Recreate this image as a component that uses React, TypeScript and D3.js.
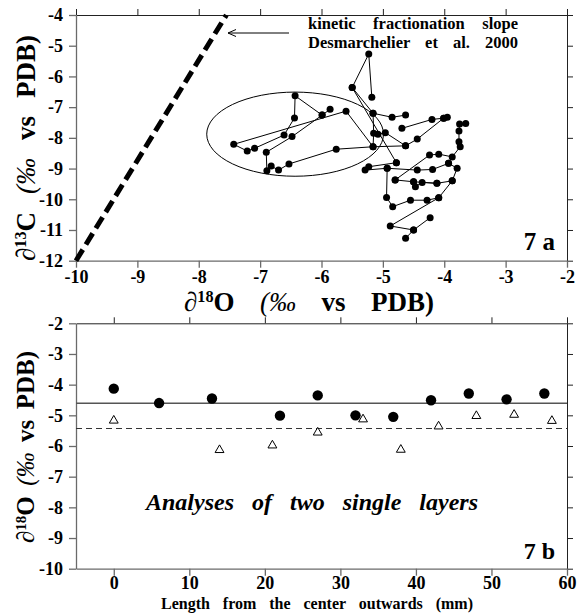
import React, { useEffect, useRef } from 'react';
import * as d3 from 'd3';

type Pt = [number, number];

// ---- 7a : d13C vs d18O, samples joined in growth order ----
const chainLeft: Pt[] = [
  [-5.86, -7.07], [-5.99, -7.26], [-6.43, -6.63], [-6.44, -7.35], [-6.61, -7.91],
  [-7.09, -8.34], [-7.21, -8.43], [-7.43, -8.21], [-5.60, -7.13], [-5.16, -8.29],
  [-5.76, -8.37], [-6.53, -8.85], [-6.70, -9.05], [-6.82, -8.92], [-6.89, -9.07],
  [-6.90, -8.47], [-6.48, -7.96], [-5.99, -7.26],
];
const chainTop: Pt[] = [[-5.18, -6.68], [-5.23, -5.27], [-5.50, -6.36], [-5.16, -7.20], [-4.85, -7.33], [-4.63, -7.26]];
const chainDrop: Pt[] = [[-5.50, -6.36], [-4.78, -8.81]];
const chainMid: Pt[] = [[-5.16, -7.20], [-5.15, -7.85], [-5.16, -8.29], [-4.63, -8.26]];
const chainMid2: Pt[] = [[-5.08, -7.88], [-4.96, -7.83], [-4.63, -8.26], [-4.44, -8.04], [-4.01, -7.36]];
const chainUpper: Pt[] = [[-4.69, -7.69], [-4.20, -7.40], [-4.01, -7.36], [-3.95, -7.33]];
const chainRight: Pt[] = [
  [-3.65, -7.53], [-3.75, -7.55], [-3.76, -7.78], [-3.76, -8.13], [-3.74, -8.29],
  [-3.87, -8.62], [-4.09, -8.53], [-4.24, -8.56], [-4.80, -9.37],
];
const chainLow: Pt[] = [
  [-3.93, -8.83], [-3.79, -8.99], [-3.87, -9.40], [-4.09, -9.95], [-4.28, -10.03],
  [-4.55, -10.03], [-4.84, -10.24], [-4.94, -9.94], [-4.93, -8.99], [-5.29, -9.05],
];
const chainTail: Pt[] = [[-4.09, -9.95], [-4.88, -10.87], [-4.50, -11.00], [-4.23, -10.60]];
const chainTail2: Pt[] = [[-4.50, -11.00], [-4.63, -11.27]];
const chainCross: Pt[] = [[-5.23, -8.94], [-4.78, -8.81]];
const chainCross2: Pt[] = [[-4.93, -8.99], [-4.44, -9.05], [-4.19, -9.03], [-3.93, -8.83]];
const chainBand: Pt[] = [[-4.80, -9.37], [-4.50, -9.43], [-4.12, -9.48], [-3.87, -9.40]];
const chainBand2: Pt[] = [[-4.50, -9.43], [-4.47, -9.59], [-4.36, -9.45], [-4.12, -9.48]];

const chainsA: Pt[][] = [
  chainLeft, chainTop, chainDrop, chainMid, chainMid2, chainUpper, chainRight,
  chainLow, chainTail, chainTail2, chainCross, chainCross2, chainBand, chainBand2,
];

const slopeLine: Pt[] = [[-10, -12], [-7.55, -4]];
const groupEllipse = { cx: -6.43, cy: -7.88, rx: 1.44, ry: 1.37 };

const xTicksA = [-10, -9, -8, -7, -6, -5, -4, -3, -2];
const yTicksA = [-12, -11, -10, -9, -8, -7, -6, -5, -4];

// ---- 7b : d18O along two single layers ----
const layer1X = [0, 6, 13, 22, 27, 32, 37, 42, 47, 52, 57];
const layer1Y = [-4.13, -4.6, -4.45, -5.01, -4.35, -5.0, -5.05, -4.51, -4.29, -4.48, -4.29];
const layer2X = [0, 14, 21, 27, 33, 38, 43, 48, 53, 58];
const layer2Y = [-5.17, -6.13, -5.98, -5.56, -5.13, -6.12, -5.36, -5.02, -4.98, -5.18];
const layer1Mean = -4.61;
const layer2Mean = -5.43;

const xTicksB = [0, 10, 20, 30, 40, 50, 60];
const yTicksB = [-10, -9, -8, -7, -6, -5, -4, -3, -2];

const FONT = '"Liberation Serif", "DejaVu Serif", serif';

// stretch the gaps between words so a text spans a given width
const fitWords = (sel: any, target: number) => {
  const node = sel.node() as SVGTextElement;
  const len = node.getComputedTextLength();
  const gaps = (node.textContent || '').split(' ').length - 1;
  if (gaps > 0) sel.style('word-spacing', `${Math.max(0, (target - len) / gaps)}px`);
};

const App: React.FC = () => {
  const svgRef = useRef<SVGSVGElement>(null);

  useEffect(() => {
    if (!svgRef.current) return;
    const svg = d3.select(svgRef.current);
    svg.selectAll('*').remove();

    const left = 76, right = 567;

    const frame = (g: any, x: any, y: any, xTicks: number[], yTicks: number[], xPad: number) => {
      const grey = '#6a6a6a';
      const [y0, y1] = y.range();
      g.append('g').attr('transform', `translate(0,${y1})`)
        .call(d3.axisTop(x).tickValues(xTicks).tickSize(6).tickSizeOuter(0).tickFormat(() => ''))
        .call((a: any) => a.selectAll('path,line').attr('stroke', '#222'));
      g.append('g').attr('transform', `translate(${right},0)`)
        .call(d3.axisRight(y).tickValues(yTicks).tickSize(6).tickSizeOuter(0).tickFormat(() => ''))
        .call((a: any) => a.selectAll('path,line').attr('stroke', '#222'));
      g.append('g').attr('transform', `translate(0,${y0})`)
        .call(d3.axisBottom(x).tickValues(xTicks).tickSize(7).tickPadding(xPad).tickSizeOuter(0).tickFormat((d: any) => String(d)))
        .call((a: any) => {
          a.selectAll('path,line').attr('stroke', grey).attr('stroke-width', 1.3);
          a.selectAll('text').attr('fill', '#000').style('font-family', FONT).style('font-weight', 'bold').style('font-size', '18px');
        });
      g.append('g').attr('transform', `translate(${left},0)`)
        .call(d3.axisLeft(y).tickValues(yTicks).tickSize(7).tickPadding(6).tickSizeOuter(0).tickFormat((d: any) => String(d)))
        .call((a: any) => {
          a.selectAll('path,line').attr('stroke', grey).attr('stroke-width', 1.3);
          a.selectAll('text').attr('fill', '#000').style('font-family', FONT).style('font-weight', 'bold').style('font-size', '18px');
        });
    };

    const title = (g: any, sup: string, atom: string, size: number, width: number) => {
      g.style('font-family', FONT).style('font-weight', 'bold').style('font-size', `${size}px`);
      g.append('tspan').text('\u2202').style('font-weight', 'normal');
      g.append('tspan').text(sup).attr('dy', -size * 0.33).style('font-size', `${size * 0.6}px`);
      g.append('tspan').text(atom).attr('dy', size * 0.33);
      g.append('tspan').text(' (\u2030').style('font-weight', 'normal').style('font-style', 'italic');
      g.append('tspan').text(' vs PDB)');
      fitWords(g, width);
    };

    // ---------------- 7a ----------------
    const xA = d3.scaleLinear().domain([-10, -2]).range([left, right]);
    const yA = d3.scaleLinear().domain([-12, -4]).range([260.7, 15]);
    const gA = svg.append('g');
    frame(gA, xA, yA, xTicksA, yTicksA, 3);

    const line = d3.line<Pt>().x(d => xA(d[0])).y(d => yA(d[1]));

    gA.append('path').attr('d', line(slopeLine)).attr('fill', 'none')
      .attr('stroke', '#000').attr('stroke-width', 5).attr('stroke-dasharray', '13,6');

    gA.append('ellipse')
      .attr('cx', xA(groupEllipse.cx)).attr('cy', yA(groupEllipse.cy))
      .attr('rx', xA(groupEllipse.cx + groupEllipse.rx) - xA(groupEllipse.cx))
      .attr('ry', yA(groupEllipse.cy - groupEllipse.ry) - yA(groupEllipse.cy))
      .attr('fill', 'none').attr('stroke', '#000').attr('stroke-width', 1);

    chainsA.forEach(c => {
      gA.append('path').attr('d', line(c)).attr('fill', 'none').attr('stroke', '#000').attr('stroke-width', 1);
    });
    const allPts = chainsA.flat();
    gA.selectAll('circle.pt').data(allPts).enter().append('circle')
      .attr('class', 'pt').attr('cx', d => xA(d[0])).attr('cy', d => yA(d[1])).attr('r', 3.5).attr('fill', '#000');

    // annotation
    const annLine = (txt: string, y: number) => {
      const t = gA.append('text').attr('text-anchor', 'middle').attr('x', 413).attr('y', y)
        .style('font-family', FONT).style('font-weight', 'bold').style('font-size', '16.5px').text(txt);
      fitWords(t, 210);
    };
    annLine('kinetic fractionation slope', 29);
    annLine('Desmarchelier et al. 2000', 48);
    gA.append('line').attr('x1', 289).attr('x2', 228).attr('y1', 33).attr('y2', 33).attr('stroke', '#000').attr('stroke-width', 1);
    gA.append('path').attr('d', 'M236,29.5 L228,33 L236,36.5').attr('fill', 'none').attr('stroke', '#000').attr('stroke-width', 1);

    gA.append('text').attr('x', 555).attr('y', 250).attr('text-anchor', 'end')
      .style('font-family', FONT).style('font-weight', 'bold').style('font-size', '25px').text('7 a');

    const tyA = gA.append('text').attr('transform', 'translate(35,148) rotate(-90)').attr('text-anchor', 'middle');
    title(tyA, '13', 'C', 27, 226);
    const txA = gA.append('text').attr('x', 309).attr('y', 311).attr('text-anchor', 'middle');
    title(txA, '18', 'O', 27, 250);

    // ---------------- 7b ----------------
    const xB = d3.scaleLinear().domain([-5, 60]).range([left, right]);
    const yB = d3.scaleLinear().domain([-10, -2]).range([568.7, 323.3]);
    const gB = svg.append('g');
    frame(gB, xB, yB, xTicksB, yTicksB, 1);

    gB.append('line').attr('x1', xB(-5)).attr('x2', xB(60)).attr('y1', yB(layer1Mean)).attr('y2', yB(layer1Mean))
      .attr('stroke', '#555').attr('stroke-width', 1.5);
    gB.append('line').attr('x1', xB(-5)).attr('x2', xB(60)).attr('y1', yB(layer2Mean)).attr('y2', yB(layer2Mean))
      .attr('stroke', '#333').attr('stroke-width', 1).attr('stroke-dasharray', '6,4');

    const tri = d3.symbol().type(d3.symbolTriangle).size(34);
    gB.selectAll('path.tri').data(layer2X).enter().append('path').attr('class', 'tri')
      .attr('d', tri() as string)
      .attr('transform', (d, i) => `translate(${xB(d)},${yB(layer2Y[i])})`)
      .attr('fill', '#fff').attr('stroke', '#000').attr('stroke-width', 1);
    gB.selectAll('circle.dot').data(layer1X).enter().append('circle').attr('class', 'dot')
      .attr('cx', d => xB(d)).attr('cy', (d, i) => yB(layer1Y[i])).attr('r', 5.2).attr('fill', '#000');

    const analyses = gB.append('text').attr('x', 312).attr('y', 510).attr('text-anchor', 'middle')
      .style('font-family', FONT).style('font-weight', 'bold').style('font-style', 'italic')
      .style('font-size', '24px').text('Analyses of two single layers');
    fitWords(analyses, 332);

    gB.append('text').attr('x', 555).attr('y', 559).attr('text-anchor', 'end')
      .style('font-family', FONT).style('font-weight', 'bold').style('font-size', '24px').text('7 b');

    const tyB = gB.append('text').attr('transform', 'translate(34,447) rotate(-90)').attr('text-anchor', 'middle');
    title(tyB, '18', 'O', 25, 192);

    const lenTitle = gB.append('text').attr('x', 317).attr('y', 609).attr('text-anchor', 'middle')
      .style('font-family', FONT).style('font-weight', 'bold').style('font-size', '16px')
      .text('Length from the center outwards (mm)');
    fitWords(lenTitle, 312);
  }, []);

  return (
    <svg ref={svgRef} width={578} height={614}
      style={{ position: 'absolute', left: 0, top: 0, background: '#fff' }} />
  );
};

export default App;
